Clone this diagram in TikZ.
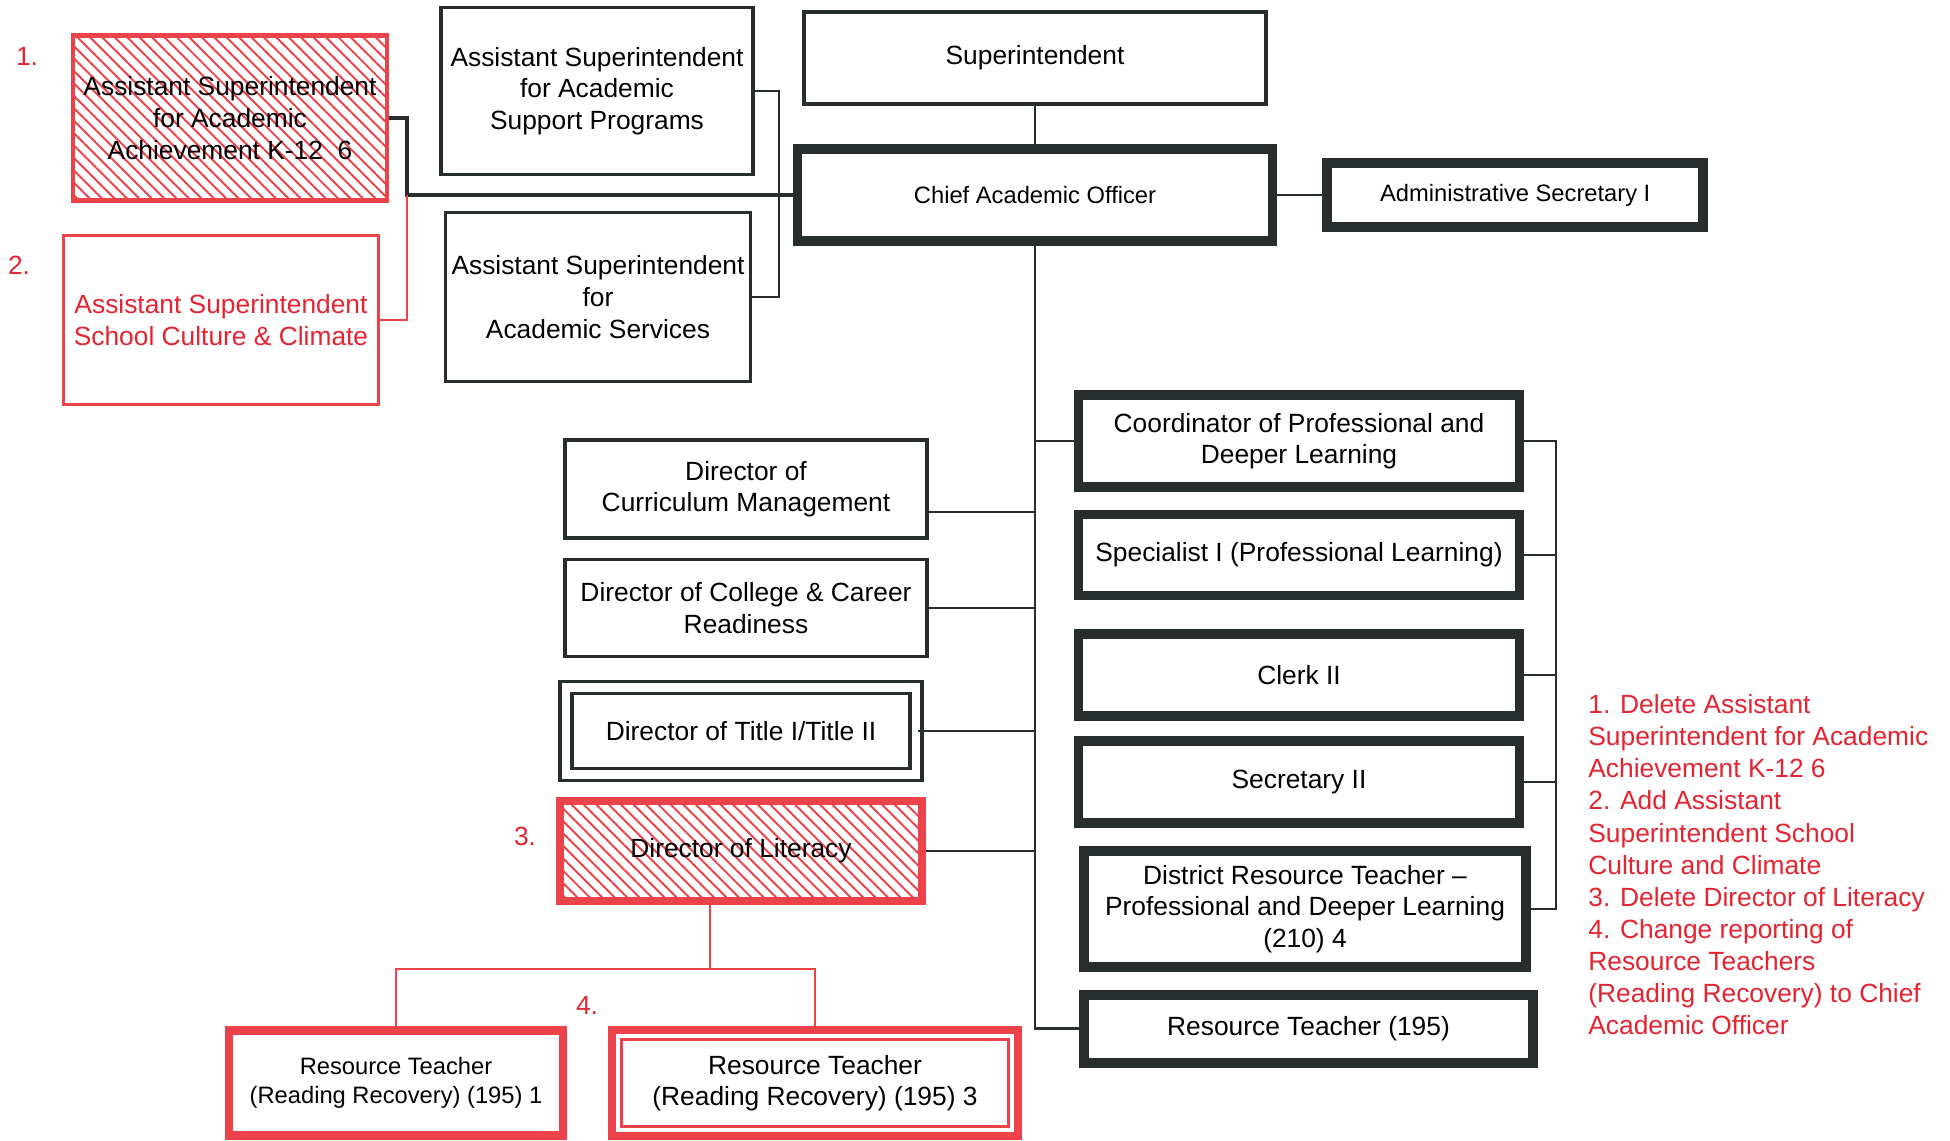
\documentclass[tikz,border=0pt]{standalone}
\usepackage{fontspec}
\setmainfont{Liberation Sans}
\usepackage{tikz}
\usetikzlibrary{positioning,patterns.meta}
\usepackage{xcolor}

\definecolor{markred}{RGB}{228,36,48}
\definecolor{hatchred}{RGB}{236,66,74}
\definecolor{boxdark}{RGB}{40,46,46}

\begin{document}
\begin{tikzpicture}[x=0.02cm, y=-0.02cm,
            box/.style={rectangle, draw=boxdark, line width=2pt, align=center, inner sep=0pt, font=\fontsize{15}{18}\selectfont},
            heavy/.style={box, line width=5.6pt},
            redbox/.style={box, draw=hatchred},
            hatched/.style={redbox, pattern={Lines[angle=-45,distance=5pt,line width=1.1pt]}, pattern color=hatchred},
            link/.style={draw=boxdark, line width=0.9pt},
            thicklink/.style={draw=boxdark, line width=1.8pt},
            redlink/.style={draw=hatchred, line width=0.9pt},
            notenum/.style={text=markred, inner sep=0pt, font=\fontsize{15}{18}\selectfont}
        ]
        \fill[white] (0,0) rectangle (1950,1140);
        \useasboundingbox (0,0) rectangle (1950,1140);

        % Top of the chart
        \node[box, minimum width=9.24cm, minimum height=1.84cm] (superint) at (1035,58) {Superintendent};
        \node[heavy, minimum width=9.5cm, minimum height=1.84cm, font=\fontsize{13.5}{16}\selectfont] (cao) at (1035,195) {Chief Academic Officer};
        \node[heavy, minimum width=7.52cm, minimum height=1.28cm, font=\fontsize{13.5}{16}\selectfont] (adminsec) [right=0.9cm of cao] {Administrative Secretary I};

        % Assistant superintendents
        \node[hatched, line width=2.3pt, minimum width=6.28cm, minimum height=3.3cm] (achieve) at (230,118) {Assistant Superintendent\\for Academic\\Achievement K-12~~6};
        \node[redbox, text=markred, minimum width=6.3cm, minimum height=3.38cm] (culture) at (221,320) {Assistant Superintendent\\School Culture \& Climate};
        \node[box, minimum width=6.24cm, minimum height=3.34cm] (support) at (597,91) {Assistant Superintendent\\for Academic\\Support Programs};
        \node[box, minimum width=6.1cm, minimum height=3.38cm] (services) at (598,297) {Assistant Superintendent\\for\\Academic Services};

        % Directors
        \node[box, minimum width=7.24cm, minimum height=1.96cm] (curric) at (746,489) {Director of\\Curriculum Management};
        \node[box, minimum width=7.24cm, minimum height=1.94cm] (college) at (746,608) {Director of College \& Career\\Readiness};
        \node[box, double, double distance=5pt, minimum width=7.0cm, minimum height=1.74cm] (title) at (741,731) {Director of Title I/Title II};
        \node[hatched, line width=4.5pt, minimum width=7.24cm, minimum height=2cm] (literacy) at (741,851) {Director of Literacy};

        % Staff
        \node[heavy, minimum width=8.82cm, minimum height=1.84cm] (coord) at (1299,441) {Coordinator of Professional and\\Deeper Learning};
        \node[heavy, minimum width=8.82cm, minimum height=1.62cm] (spec) at (1299,555) {Specialist I (Professional Learning)};
        \node[heavy, minimum width=8.82cm, minimum height=1.64cm] (clerk) at (1299,675) {Clerk II};
        \node[heavy, minimum width=8.82cm, minimum height=1.64cm] (secr) at (1299,782) {Secretary II};
        \node[heavy, minimum width=8.84cm, minimum height=2.32cm] (district) at (1305,909) {District Resource Teacher \textendash\\Professional and Deeper Learning\\(210) 4};
        \node[heavy, minimum width=8.98cm, minimum height=1.36cm] (rt195) [below=0.36cm of district, xshift=0.07cm] {Resource Teacher (195)};

        % Reading Recovery teachers
        \node[redbox, line width=5pt, minimum width=6.68cm, minimum height=2.1cm, font=\fontsize{13.5}{16.5}\selectfont] (rtone) at (396,1083) {Resource Teacher\\(Reading Recovery) (195) 1};
        \node[redbox, line width=5pt, minimum width=8.12cm, minimum height=2.12cm] (rtthree) at (815,1083) {Resource Teacher\\(Reading Recovery) (195) 3};
        \draw[hatchred, line width=1.5pt] ([shift={(14,14)}]rtthree.north west) rectangle ([shift={(-14,-14)}]rtthree.south east);

        % Change numbers
        \node[notenum] (num1) at (27,56) {1.};
        \node[notenum] (num2) at (19,265) {2.};
        \node[notenum] (num3) at (525,836) {3.};
        \node[notenum] (num4) at (587,1005) {4.};

        % List of changes
        \node[notenum, align=left, anchor=north west, font=\fontsize{15}{18.3}\selectfont] (changes) at (1588,694) {1. Delete Assistant\\Superintendent for Academic\\Achievement K-12 6\\2. Add Assistant\\Superintendent School\\Culture and Climate\\3. Delete Director of Literacy\\4. Change reporting of\\Resource Teachers\\(Reading Recovery) to Chief\\Academic Officer};

        % Superintendent and secretary
        \draw[link] (superint) -- (cao);
        \draw[link] (cao) -- (adminsec);

        % Assistant superintendents to CAO
        \coordinate (lefthub) at (407,195);
        \draw[thicklink] (achieve.east) -| (lefthub) -- (cao.west);
        \draw[redlink] (lefthub) |- (culture.east);
        \draw[link] (support.east) -- ++(24,0) |- (services.east);

        % Trunk below CAO
        \draw[link] (cao.south) |- (rt195.west);
        \draw[thicklink] (cao.south |- rt195.west) -- (rt195.west);
        \path (curric.east) ++(0,23) coordinate (curricjoin);
        \draw[link] (curricjoin) -- (curricjoin -| cao.south);
        \draw[link] (college.east) -- (college.east -| cao.south);
        \draw[link] (title.east) -- (title.east -| cao.south);
        \draw[link] (literacy.east) -- (literacy.east -| cao.south);
        \draw[link] (coord.west) -- (coord.west -| cao.south);

        % Bracket right of staff
        \coordinate (staffbar) at (1556,441);
        \draw[link] (coord.east) -- (coord.east -| staffbar) -- (district.east -| staffbar) -- (district.east);
        \foreach \n in {spec,clerk,secr}
            \draw[link] (\n.east) -- (\n.east -| staffbar);

        % Reading Recovery under literacy
        \path (literacy.south) ++(-31,0) coordinate (literacyfoot);
        \coordinate (rrhub) at (710,969);
        \draw[redlink] (literacyfoot) -- (rrhub);
        \draw[redlink] (rtone.north) |- (rrhub) -| (rtthree.north);

        \end{tikzpicture}
\end{document}
